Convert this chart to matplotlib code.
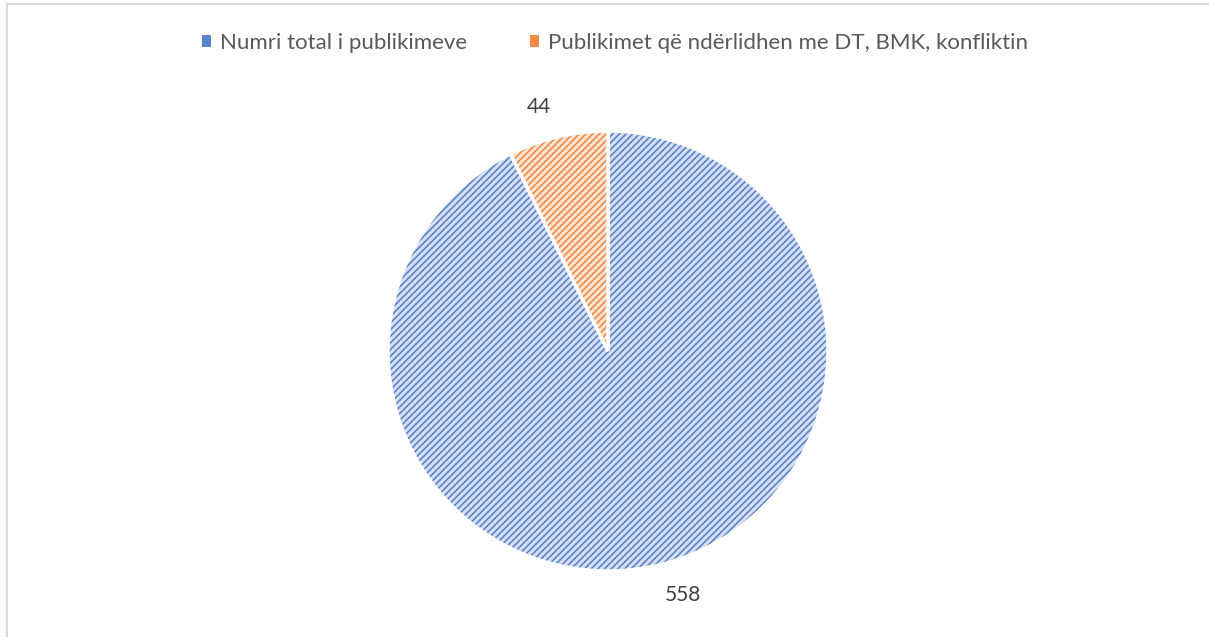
import matplotlib.pyplot as plt
from matplotlib.colors import to_rgba
from matplotlib.lines import Line2D
from matplotlib.patches import Patch

labels = ['Numri total i publikimeve', 'Publikimet që ndërlidhen me DT, BMK, konfliktin']
values = [558, 44]
face_colors = ['#d6dff3', '#fce4d3']
hatch_colors = ['#5b84cc', '#f08a44']

plt.rcParams['font.family'] = ['Lato', 'DejaVu Sans']
plt.rcParams['hatch.linewidth'] = 1.2

W, H = 1209, 637
fig = plt.figure(figsize=(W / 100, H / 100), dpi=100)

# pie centre (608, 351), radius 220 px
cx, cy, r = 608, 351, 220
ax = fig.add_axes([(cx - r) / W, (H - cy - r) / H, 2 * r / W, 2 * r / H])
wedges, texts = ax.pie(values, labels=[str(v) for v in values], startangle=90,
                       counterclock=False, labeldistance=1.14,
                       wedgeprops=dict(linewidth=2.5, edgecolor='white'),
                       textprops=dict(fontsize=15, color='#404040'))
for w, fc, hc in zip(wedges, face_colors, hatch_colors):
    w.set_facecolor(fc)
    w.set_hatch('/////')
    w._hatch_color = to_rgba(hc)
ax.set_xlim(-1, 1)
ax.set_ylim(-1, 1)
ax.axis('off')

handles = [Patch(facecolor=hc, edgecolor='none') for hc in hatch_colors]
fig.legend(handles, labels, loc='center', bbox_to_anchor=(615 / W, 1 - 43 / H),
           ncol=2, frameon=False, fontsize=16, handlelength=0.4, handleheight=0.4,
           handletextpad=0.4, columnspacing=2.85, labelcolor='#595959')

# chart border (light gray)
fig.add_artist(Line2D([7 / W, 7 / W], [0, 1 - 4 / H], color='#d9d9d9', lw=1.5))
fig.add_artist(Line2D([7 / W, 1], [1 - 4 / H, 1 - 4 / H], color='#d9d9d9', lw=1.5))

fig.savefig('out.png', dpi=100, facecolor='white')
